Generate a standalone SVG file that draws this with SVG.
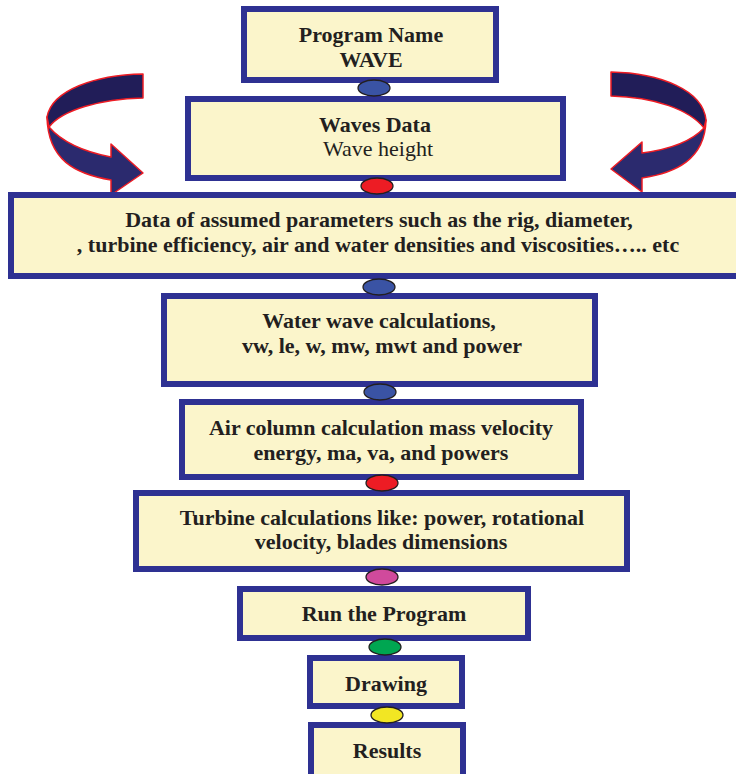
<svg xmlns="http://www.w3.org/2000/svg" width="736" height="774" viewBox="0 0 736 774">
<style>
.box{fill:#fbf5cb;stroke:#2e3192;stroke-width:6}
.t{font-family:"Liberation Serif","Times New Roman",serif;font-size:22px;font-weight:bold;fill:#231f20;text-anchor:middle}
.r{font-weight:normal}
.dot{stroke:#231f20;stroke-width:1.3}
.top{fill:#211d58;stroke:#ed1c24;stroke-width:1.5;stroke-linejoin:round}
.under{fill:#2b2a6e;stroke:#ed1c24;stroke-width:1.5;stroke-linejoin:round}
</style>
<rect width="736" height="774" fill="#ffffff"/>
<g id="arrow-left">
<path class="under" d="M49,127 C62,142 85,152 111,157 L111,144 L143,173 L111,195 L111,180 C75,174 48,160 47,117 Z"/>
<path class="top" d="M143,74 C95,75 52,90 47,117 L49,127 C62,110 100,99 143,98 Z"/>
</g>
<g id="arrow-right">
<path class="under" d="M704,128 C690,143 665,150 642,153 L642,142 L611,169 L642,192 L642,178 C675,173 705,160 706,120 Z"/>
<path class="top" d="M611,72 C660,73 703,90 706,120 L704,128 C690,110 655,97 611,96 Z"/>
</g>
<g id="n1"><rect class="box" x="244" y="9" width="252" height="71"/>
<text class="t" x="371" y="42">Program Name</text><text class="t" x="371" y="67">WAVE</text></g>
<g id="n2"><rect class="box" x="188" y="99" width="375" height="79"/>
<text class="t" x="375" y="132">Waves Data</text><text class="t r" x="378" y="156">Wave height</text></g>
<g id="n3"><rect class="box" x="11" y="195" width="740" height="81"/>
<text class="t" x="379" y="227">Data of assumed parameters such as the rig, diameter,</text>
<text class="t" x="378" y="252">, turbine efficiency, air and water densities and viscosities….. etc</text></g>
<g id="n4"><rect class="box" x="164" y="296" width="431" height="88"/>
<text class="t" x="379" y="328">Water wave calculations,</text><text class="t" x="382" y="353">vw, le, w, mw, mwt and power</text></g>
<g id="n5"><rect class="box" x="182" y="402" width="399" height="75"/>
<text class="t" x="381" y="435">Air column calculation mass velocity</text><text class="t" x="381" y="460">energy, ma, va, and powers</text></g>
<g id="n6"><rect class="box" x="136" y="493" width="491" height="76"/>
<text class="t" x="382" y="525">Turbine calculations like: power, rotational</text><text class="t" x="381" y="549">velocity, blades dimensions</text></g>
<g id="n7"><rect class="box" x="240" y="589" width="288" height="49"/>
<text class="t" x="384" y="621">Run the Program</text></g>
<g id="n8"><rect class="box" x="310" y="658" width="152" height="48"/>
<text class="t" x="386" y="691">Drawing</text></g>
<g id="n9"><rect class="box" x="311" y="725" width="152" height="52"/>
<text class="t" x="387" y="758">Results</text></g>
<g id="connectors">
<ellipse class="dot" cx="374" cy="88" rx="16" ry="8" fill="#3a53a4"/>
<ellipse class="dot" cx="377" cy="186" rx="16" ry="8" fill="#ed1c24"/>
<ellipse class="dot" cx="379" cy="287" rx="16" ry="8" fill="#3a53a4"/>
<ellipse class="dot" cx="380" cy="392" rx="16" ry="8" fill="#3a53a4"/>
<ellipse class="dot" cx="382" cy="483" rx="16" ry="8" fill="#ed1c24"/>
<ellipse class="dot" cx="382" cy="577" rx="16" ry="8" fill="#d04a9c"/>
<ellipse class="dot" cx="385" cy="647" rx="16" ry="8" fill="#00a651"/>
<ellipse class="dot" cx="387" cy="715" rx="16" ry="8" fill="#f2e623"/>
</g>
</svg>
